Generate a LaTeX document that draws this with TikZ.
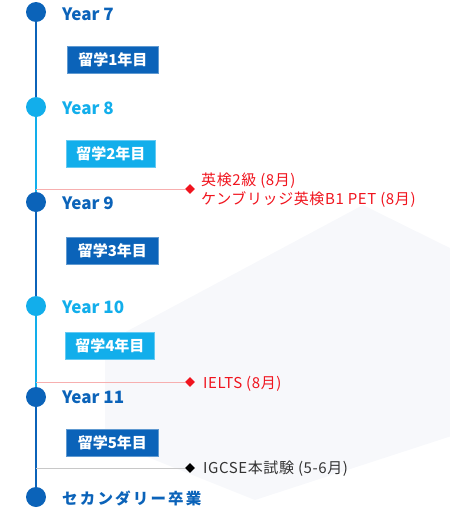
\documentclass[tikz,border=0pt]{standalone}
\usepackage{fontspec}
\setmainfont{Noto Sans CJK JP}
\usetikzlibrary{shapes.geometric}
\definecolor{dblue}{HTML}{0B63B9}
\definecolor{lblue}{HTML}{12AEEB}
\definecolor{evred}{HTML}{F0141E}
\definecolor{evpink}{HTML}{F7AFAF}
\definecolor{evgrey}{HTML}{C8C8C8}
\definecolor{evtext}{HTML}{333333}
\definecolor{bgshape}{HTML}{F7F8FB}
\tikzset{
  dot/.style={circle, fill=#1, minimum size=20pt, inner sep=0pt},
  seg/.style={draw=#1, line width=2.4pt},
  yearlbl/.style={anchor=base west, text=#1, font=\fontsize{17}{20}\selectfont\bfseries, inner sep=0pt},
  yearbox/.style={fill=#1, draw=#1!65!white, line width=0.8pt, minimum width=91pt, minimum height=27pt, inner sep=0pt, anchor=north west, text=white, font=\fontsize{15}{18}\selectfont\bfseries},
  evmark/.style={diamond, fill=#1, minimum size=10pt, inner sep=0pt},
  evline/.style={draw=#1, line width=0.9pt},
  evlbl/.style={anchor=base west, text=#1, font=\fontsize{15}{20}\selectfont\addfontfeature{LetterSpace=4}, inner sep=0pt}
}
\begin{document}
\begin{tikzpicture}[x=1pt,y=-1pt]
\useasboundingbox (0,0) rectangle (450,509);
% background hexagon
\fill[bgshape] (363,205) -- (470,258) -- (470,430) -- (255,500) -- (105,440) -- (105,343) -- cycle;
% timeline dots
\node[dot=dblue] (c7) at (36,12) {};
\node[dot=lblue] (c8) at (36,107) {};
\node[dot=dblue] (c9) at (36,202) {};
\node[dot=lblue] (c10) at (36,306) {};
\node[dot=dblue] (c11) at (36,397) {};
\node[dot=dblue] (c12) at (36,497) {};
\draw[seg=dblue] (c7) -- (c8);
\draw[seg=lblue] (c8) -- (c9);
\draw[seg=dblue] (c9) -- (c10);
\draw[seg=lblue] (c10) -- (c11);
\draw[seg=dblue] (c11) -- (c12);
% year labels
\node[yearlbl=dblue] (y7) at (62,20) {Year 7};
\node[yearlbl=lblue] (y8) at (62,114) {Year 8};
\node[yearlbl=dblue] (y9) at (62,209) {Year 9};
\node[yearlbl=lblue] (y10) at (62,313) {Year 10};
\node[yearlbl=dblue] (y11) at (62,403) {Year 11};
\node[yearlbl=dblue, font=\fontsize{15.5}{20}\selectfont\bfseries\addfontfeature{LetterSpace=14}] (grad) at (62,504) {セカンダリー卒業};
% year boxes
\node[yearbox=dblue] (b1) at (67,46) {留学1年目};
\node[yearbox=lblue, minimum width=89pt] (b2) at (66,140) {留学2年目};
\node[yearbox=dblue, minimum width=92pt] (b3) at (66,237) {留学3年目};
\node[yearbox=lblue, minimum width=89pt] (b4) at (65,332) {留学4年目};
\node[yearbox=dblue, minimum width=92pt] (b5) at (66,429) {留学5年目};
% events
\coordinate (e1s) at (36,189);
\coordinate (e2s) at (36,382);
\coordinate (e3s) at (36,468);
\node[evmark=evred] (d1) at (190,189) {};
\node[evmark=evred] (d2) at (190,382) {};
\node[evmark=black] (d3) at (190,468) {};
\draw[evline=evpink] (e1s) -- (d1);
\draw[evline=evpink] (e2s) -- (d2);
\draw[evline=evgrey] (e3s) -- (d3);
\node[evlbl=evred] (t1a) at (201,185) {英検2級 (8月)};
\node[evlbl=evred] (t1b) at (201,204) {ケンブリッジ英検B1 PET (8月)};
\node[evlbl=evred] (t2) at (203,388) {IELTS (8月)};
\node[evlbl=evtext] (t3) at (203,473) {IGCSE本試験 (5-6月)};
\end{tikzpicture}
\end{document}
